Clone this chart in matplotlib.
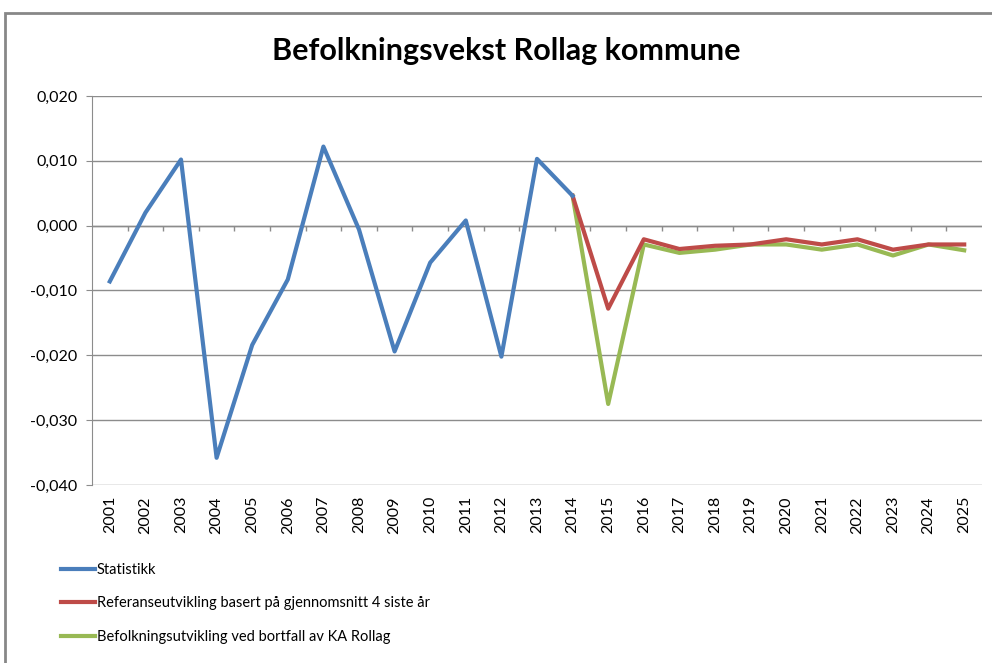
import numpy as np
import matplotlib
matplotlib.use("Agg")
import matplotlib.pyplot as plt
from matplotlib.patches import Rectangle
from matplotlib.ticker import FuncFormatter

plt.rcParams['font.family'] = ['Lato', 'DejaVu Sans']

years = list(range(2001, 2026))

# Statistikk 2001-2014
statistikk = [-0.0086, 0.0020, 0.0102, -0.0358, -0.0184, -0.0083, 0.0122,
              -0.0006, -0.0194, -0.0057, 0.0008, -0.0202, 0.0103, 0.0046]
# projections 2014-2025
referanse = [0.0046, -0.0128, -0.0021, -0.0036, -0.0031, -0.0029, -0.0021,
             -0.0029, -0.0021, -0.0037, -0.0029, -0.0029]
bortfall = [0.0046, -0.0275, -0.0029, -0.0042, -0.0037, -0.0029, -0.0029,
            -0.0037, -0.0029, -0.0046, -0.0029, -0.0038]

labels = ["Statistikk",
          "Referanseutvikling basert på gjennomsnitt 4 siste år",
          "Befolkningsutvikling ved bortfall av KA Rollag"]
colors = ["#4A7EBB", "#BE4B48", "#98B954"]

W, H = 992, 663
fig = plt.figure(figsize=(W / 100, H / 100), dpi=100)
ax = fig.add_axes([92 / W, 1 - 485 / H, (982 - 92) / W, (485 - 96) / H])

x_stat = np.arange(len(statistikk))
x_proj = np.arange(len(statistikk) - 1, len(years))

ax.plot(x_stat, statistikk, color=colors[0], lw=3, label=labels[0], zorder=4)
ax.plot(x_proj, referanse, color=colors[1], lw=3, label=labels[1], zorder=3)
ax.plot(x_proj, bortfall, color=colors[2], lw=3, label=labels[2], zorder=2)

ax.set_xlim(-0.5, len(years) - 0.5)
ax.set_ylim(-0.04, 0.02)
ax.set_yticks(np.arange(-0.04, 0.0201, 0.01))
ax.yaxis.set_major_formatter(FuncFormatter(lambda v, p: f"{v:.3f}".replace(".", ",").replace("-0,000", "0,000")))
ax.grid(axis="y", color="#8C8C8C", lw=1)
ax.set_axisbelow(True)

# category axis crosses at zero
ax.axhline(0, color="#8C8C8C", lw=1, zorder=1)
ax.vlines(np.arange(0.5, len(years) - 0.5), -0.0008, 0, color="#8C8C8C", lw=1, zorder=1)

ax.set_xticks(np.arange(len(years)))
ax.set_xticklabels([str(y) for y in years], rotation=90)
ax.tick_params(axis="x", length=0, pad=8, labelsize=11.5)
ax.tick_params(axis="y", length=4.5, color="#8C8C8C", labelsize=11.5, pad=6)

for s in ["top", "right", "bottom"]:
    ax.spines[s].set_visible(False)
ax.spines["left"].set_color("#8C8C8C")

fig.text(506 / W, 1 - 51 / H, "Befolkningsvekst Rollag kommune", ha="center", va="center",
         fontsize=22, fontweight="bold")

fig.legend(loc="upper left", bbox_to_anchor=(48 / W, 1 - 550 / H), frameon=False,
           fontsize=10.5, handlelength=2.3, handletextpad=0.15, labelspacing=1.32)

# chart frame
fig.patches.append(Rectangle((5 / W, -0.1), 1.2, 1.1 - 13 / H, transform=fig.transFigure,
                             fill=False, edgecolor="#878787", lw=2))

fig.savefig("out.png", dpi=100)
